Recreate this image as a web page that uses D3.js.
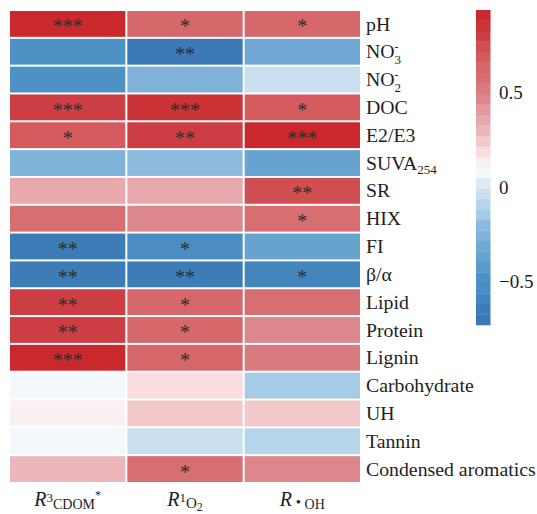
<!DOCTYPE html>
<html>
<head>
<meta charset="utf-8">
<script src="https://cdn.jsdelivr.net/npm/d3@7/dist/d3.min.js"></script>
<style>
  html, body { margin: 0; padding: 0; background: #fff; }
  svg { display: block; }
</style>
</head>
<body>
<svg id="chart" width="537" height="514"></svg>
<script>
// Correlation coefficients between water-quality / DOM descriptors and the three reactive species rates
const rows = ["pH", "NO3", "NO2", "DOC", "E2/E3", "SUVA254", "SR", "HIX", "FI", "β/α",
              "Lipid", "Protein", "Lignin", "Carbohydrate", "UH", "Tannin", "Condensed aromatics"];
const columns = ["R3CDOM*", "R1O2", "R•OH"];

const rCDOM = [0.94, -0.48, -0.48, 0.80, 0.69, -0.26, 0.35, 0.58, -0.65, -0.65,
               0.80, 0.80, 0.92, 0.08, 0.13, 0.08, 0.30];
const r1O2  = [0.63, -0.73, -0.26, 0.86, 0.80, -0.20, 0.35, 0.46, -0.54, -0.65,
               0.63, 0.63, 0.63, 0.19, 0.24, -0.04, 0.58];
const rOH   = [0.63, -0.31, -0.04, 0.69, 0.91, -0.37, 0.74, 0.60, -0.37, -0.59,
               0.58, 0.46, 0.52, -0.15, 0.24, -0.09, 0.46];

// Significance marks per cell
const sigCDOM = ["***", "", "", "***", "*", "", "", "", "**", "**", "**", "**", "***", "", "", "", ""];
const sig1O2  = ["*", "**", "", "***", "**", "", "", "", "*", "**", "*", "*", "*", "", "", "", "*"];
const sigOH   = ["*", "", "", "*", "***", "", "**", "*", "", "*", "", "", "", "", "", "", ""];

const colorbarTicks = [-0.5, 0, 0.5];

// 30-step blue–white–red palette
const palette = ["#3a79b5", "#3d7db7", "#4385bd", "#4a8cc3", "#4e91c5", "#5a9acb", "#67a3cf", "#70a7d5",
                 "#80b3d9", "#8cb9dd", "#a6cbe6", "#b5d5eb", "#cadff0", "#dde9f5", "#f3f8fc",
                 "#faf0f1", "#f8dcde", "#f2c9ca", "#ebb7ba", "#e8a9ac", "#e29aa0", "#dc878c",
                 "#d87b7f", "#d66e72", "#d6676b", "#d55a5e", "#d04f53", "#cc3e44", "#cb3336", "#c9292c"];

const FONT = "'Liberation Serif', 'Times New Roman', Times, 'DejaVu Serif', serif";

const valuesByCol = [rCDOM, r1O2, rOH];
const sigByCol = [sigCDOM, sig1O2, sigOH];
const cells = [];
columns.forEach((c, ci) => rows.forEach((r, ri) => {
  cells.push({ row: r, col: c, value: valuesByCol[ci][ri], sig: sigByCol[ci][ri] });
}));

const extent = d3.extent(cells, d => d.value);
const color = d3.scaleQuantize().domain(extent).range(palette);

const svg = d3.select("#chart")
  .attr("font-family", FONT)
  .style("font-family", FONT);

const x = d3.scaleBand().domain(columns).range([9, 361]);
const y = d3.scaleBand().domain(rows).range([10, 483]);
const inset = 1;

// Heatmap cells
svg.append("g").selectAll("rect").data(cells).join("rect")
  .attr("x", d => x(d.col) + inset)
  .attr("y", d => y(d.row) + inset)
  .attr("width", x.bandwidth() - 2 * inset)
  .attr("height", y.bandwidth() - 2 * inset)
  .attr("fill", d => color(d.value));

// Significance asterisks
svg.append("g").selectAll("text").data(cells.filter(d => d.sig)).join("text")
  .attr("x", d => x(d.col) + x.bandwidth() / 2)
  .attr("y", d => y(d.row) + y.bandwidth() / 2 + 9.5)
  .attr("text-anchor", "middle")
  .attr("font-size", 20)
  .attr("fill", "#2e2e2e")
  .text(d => d.sig);

// Row labels, with chemical sub/superscripts
const rowLabels = svg.append("g").attr("fill", "#1e1e1e");
rows.forEach(r => {
  const t = rowLabels.append("text")
    .attr("x", 366)
    .attr("y", y(r) + y.bandwidth() / 2 + 6.6)
    .attr("font-size", 19.8);
  if (r === "NO3" || r === "NO2") {
    t.append("tspan").text("NO");
    t.append("tspan").attr("dy", -7).attr("font-size", 12).text("-");
    t.append("tspan").attr("dx", -4).attr("dy", 13).attr("font-size", 13).text(r.slice(2));
  } else if (r === "SUVA254") {
    t.append("tspan").text("SUVA");
    t.append("tspan").attr("dy", 4).attr("font-size", 13).text("254");
  } else {
    t.text(r);
  }
});

// Column labels
const colLabels = svg.append("g").attr("fill", "#1e1e1e");
function colLabel(c) {
  const t = colLabels.append("text")
    .attr("x", x(c) + x.bandwidth() / 2)
    .attr("y", 506)
    .attr("text-anchor", "middle")
    .attr("font-size", 20);
  t.append("tspan").attr("font-style", "italic").text("R");
  if (c === "R3CDOM*") {
    t.append("tspan").attr("dy", -4).attr("font-size", 13).text("3");
    t.append("tspan").attr("dy", 7).attr("font-size", 14).text("CDOM");
    t.append("tspan").attr("dy", -10).attr("font-size", 12).text("*");
  } else if (c === "R1O2") {
    t.append("tspan").attr("dy", -4).attr("font-size", 13).text("1");
    t.append("tspan").attr("dy", 6).attr("font-size", 15).text("O");
    t.append("tspan").attr("dy", 3).attr("font-size", 12).text("2");
  } else {
    t.append("tspan").attr("dy", 1).attr("font-size", 15).text(" •");
    t.append("tspan").attr("dy", 2).attr("font-size", 14).text(" OH");
  }
}
columns.forEach(colLabel);

// Colour bar
const cb = d3.scaleLinear().domain(extent).range([325, 10]);
const edges = [extent[0], ...color.thresholds(), extent[1]];
svg.append("g").selectAll("rect").data(palette).join("rect")
  .attr("x", 476)
  .attr("width", 14.5)
  .attr("y", (d, i) => cb(edges[i + 1]))
  .attr("height", (d, i) => cb(edges[i]) - cb(edges[i + 1]) + 0.3)
  .attr("fill", d => d);

svg.append("g").attr("fill", "#1e1e1e").selectAll("text").data(colorbarTicks).join("text")
  .attr("x", 499)
  .attr("y", d => cb(d) + 6.4)
  .attr("font-size", 19)
  .text(d => d < 0 ? "\u2212" + Math.abs(d) : String(d));
</script>
</body>
</html>
